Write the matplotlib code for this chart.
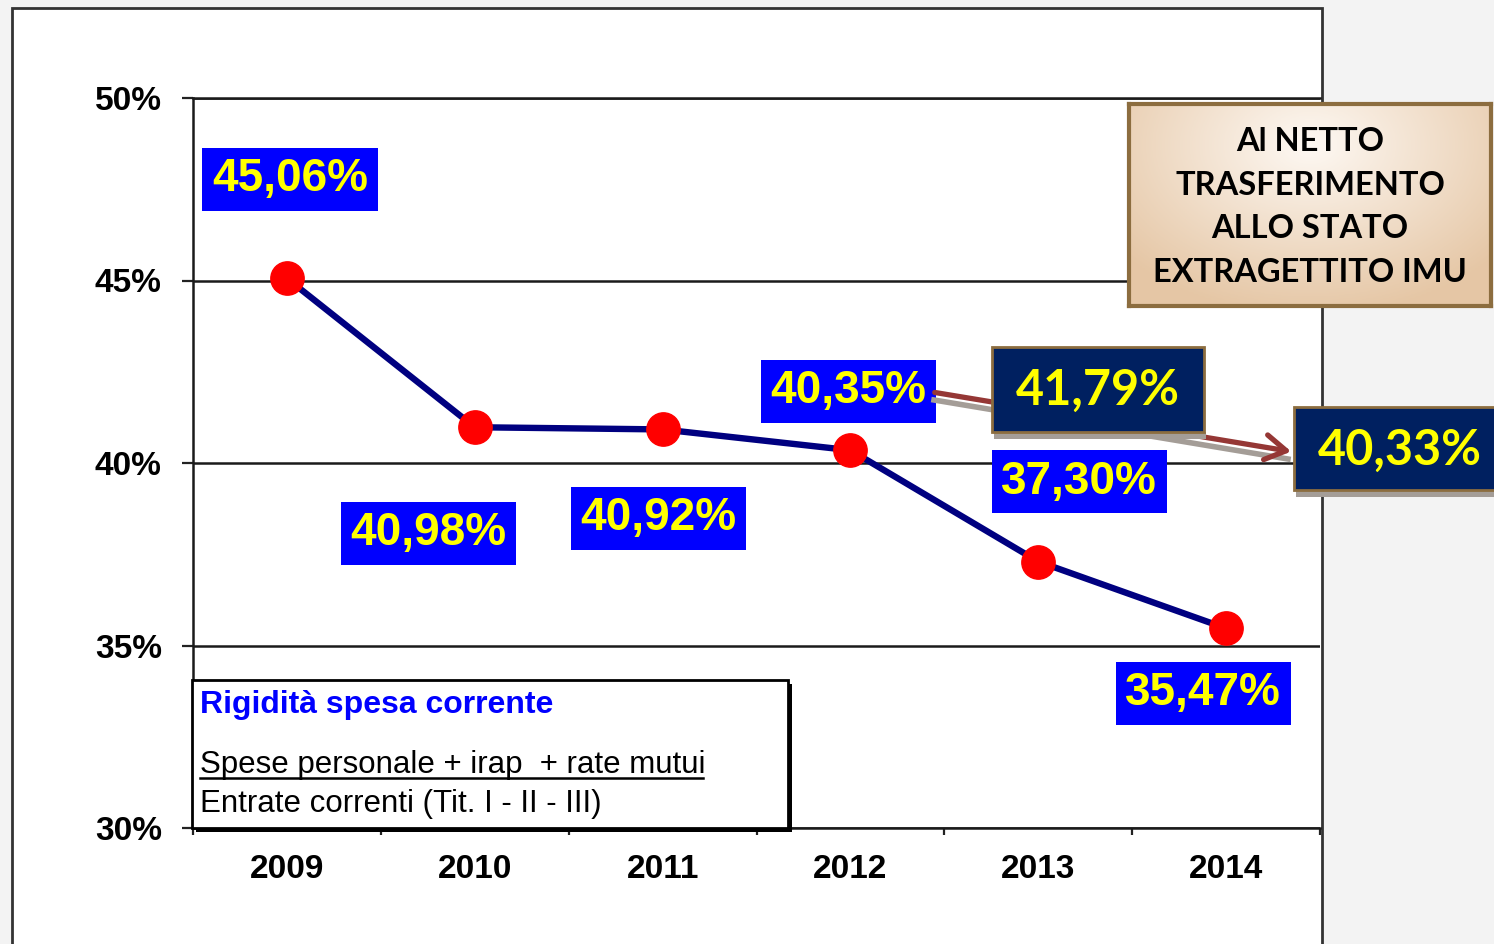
import matplotlib
matplotlib.use("Agg")
import matplotlib.pyplot as plt
import numpy as np
from matplotlib.patches import Rectangle, FancyArrowPatch
from matplotlib.lines import Line2D

# ---------------- data ----------------
years = ["2009", "2010", "2011", "2012", "2013", "2014"]
rigidita = [45.06, 40.98, 40.92, 40.35, 37.30, 35.47]
net_values = [41.79, 40.33]          # "al netto" figures (2013, 2014)
y_ticks = [30, 35, 40, 45, 50]
box_lines = ["Al NETTO", "TRASFERIMENTO", "ALLO STATO", "EXTRAGETTITO IMU"]
title_txt = "Rigidità spesa corrente"
num_txt = "Spese personale + irap  + rate mutui"
den_txt = "Entrate correnti (Tit. I - II - III)"

def pct(v):
    return f"{v:.2f}".replace(".", ",") + "%"

W, H = 1494, 944
def fx(x): return x / W
def fy(y): return 1 - y / H

fig = plt.figure(figsize=(W / 100, H / 100), dpi=100)
fig.patch.set_facecolor("#f3f3f3")

# white slide frame
fig.add_artist(Rectangle((fx(12), fy(960)), (1322 - 12) / W, (960 - 8) / H,
                         transform=fig.transFigure, facecolor="white",
                         edgecolor="#333333", lw=2, zorder=-5))

ax = fig.add_axes([fx(193), fy(828), (1320 - 193) / W, (828 - 98) / H])
ax.set_facecolor("none")
x = np.arange(len(years))
ax.plot(x, rigidita, color="#000080", lw=4.6, marker="o", ms=24,
        mfc="#ff0000", mec="#ff0000", zorder=4, solid_capstyle="round")

ax.set_xlim(-0.5, len(years) - 0.5)
ax.set_ylim(30, 50)
ax.set_yticks(y_ticks)
ax.set_yticklabels([f"{t}%" for t in y_ticks])
ax.set_xticks(x)
ax.set_xticklabels(years)
ax.set_xticks(np.arange(-0.5, len(years), 1.0), minor=True)
ax.tick_params(axis="x", which="major", length=0, pad=19)
ax.tick_params(axis="x", which="minor", length=5, width=1.6, direction="out", color="#222222")
ax.tick_params(axis="y", length=8, width=1.6, pad=14.5, color="#222222")
for lab in ax.get_xticklabels() + ax.get_yticklabels():
    lab.set_fontfamily("Liberation Sans")
    lab.set_fontweight("bold")
    lab.set_fontsize(24)
ax.yaxis.grid(True, color="#1a1a1a", lw=1.8, zorder=1)
ax.set_axisbelow(True)
ax.spines["right"].set_visible(False)
for s in ["left", "bottom", "top"]:
    ax.spines[s].set_color("#1a1a1a")
    ax.spines[s].set_linewidth(1.8)

# data labels (offsets in pixels from each point)
offsets = [(3, 99), (-46, -106), (-4, -89), (-2, 59), (41, 80), (-23, -65)]
for i, v in enumerate(rigidita):
    ax.annotate(pct(v), xy=(i, v), xytext=offsets[i], textcoords="offset pixels",
                ha="center", va="center", fontsize=33, fontweight="bold",
                family="Liberation Sans", color="#ffff00", zorder=6,
                bbox=dict(boxstyle="square,pad=0.21", fc="#0000ff", ec="none"))

# arrow from 2012 label to "net" 2014 box
fig.add_artist(Line2D([fx(934), fx(1288)], [fy(400), fy(459)], transform=fig.transFigure,
                      color="#a49d97", lw=4, zorder=2))
fig.add_artist(FancyArrowPatch((fx(932), fy(392)), (fx(1294), fy(452)),
                               transform=fig.transFigure, arrowstyle="->,head_length=10,head_width=6",
                               mutation_scale=1.5, color="#953735", lw=3.8, zorder=3))

# dark "net" boxes
dark_boxes = [(992, 347, 1204, 432), (1294, 407, 1520, 490)]
for (x0, y0, x1, y1) in dark_boxes:
    fig.add_artist(Rectangle((fx(x0 + 2), fy(y1 + 7)), (x1 - x0) / W, 7 / H,
                             transform=fig.transFigure, facecolor="#a49d97",
                             edgecolor="none", zorder=4))
    fig.add_artist(Rectangle((fx(x0), fy(y1)), (x1 - x0) / W, (y1 - y0) / H,
                             transform=fig.transFigure, facecolor="#002060",
                             edgecolor="#8c6d3f", lw=2, zorder=5))
cx = [1098, 1400]
cy = [390, 450]
for v, X, Y in zip(net_values, cx, cy):
    fig.text(fx(X), fy(Y), pct(v), ha="center", va="center", fontsize=35,
             fontweight="bold", family="Lato", color="#ffff00", zorder=6)

# beige note box with gradient
bx = fig.add_axes([fx(1129), fy(306), (1491 - 1129) / W, (306 - 104) / H], zorder=7)
gx, gy = np.meshgrid(np.linspace(-1, 1, 200), np.linspace(-1, 1, 100))
r = np.clip(np.sqrt(gx ** 2 * 0.55 + (gy + 0.6) ** 2 * 0.35), 0, 1)
c0 = np.array([0.995, 0.975, 0.955])
c1 = np.array([0.90, 0.78, 0.65])
img = c0[None, None, :] * (1 - r[..., None]) + c1[None, None, :] * r[..., None]
bx.imshow(img, aspect="auto", extent=(0, 1, 0, 1), origin="upper")
bx.set_xlim(0, 1); bx.set_ylim(0, 1)
bx.set_xticks([]); bx.set_yticks([])
for s in bx.spines.values():
    s.set_color("#8c6d3f"); s.set_linewidth(3)
bx.text(0.5, 0.49, "\n".join(box_lines), ha="center", va="center", fontsize=23.5,
        fontweight="bold", family="Lato", color="black", linespacing=1.6,
        transform=bx.transAxes)

# formula box
fig.add_artist(Rectangle((fx(196), fy(832)), (788 - 192) / W, (828 - 680) / H,
                         transform=fig.transFigure, facecolor="black", edgecolor="none", zorder=8))
fig.add_artist(Rectangle((fx(192), fy(828)), (788 - 192) / W, (828 - 680) / H,
                         transform=fig.transFigure, facecolor="white", edgecolor="black",
                         lw=2, zorder=9))
fig.text(fx(200), fy(713), title_txt, ha="left", va="baseline", fontsize=23,
         fontweight="bold", family="Liberation Sans", color="#0000ff", zorder=10)
fig.text(fx(200), fy(773), num_txt, ha="left", va="baseline", fontsize=22.5,
         family="Liberation Sans", color="black", zorder=10)
fig.add_artist(Line2D([fx(200), fx(703)], [fy(778), fy(778)], transform=fig.transFigure,
                      color="black", lw=1.8, zorder=10))
fig.text(fx(200), fy(812), den_txt, ha="left", va="baseline", fontsize=22.5,
         family="Liberation Sans", color="black", zorder=10)

fig.savefig("out.png", dpi=100, facecolor=fig.get_facecolor())
